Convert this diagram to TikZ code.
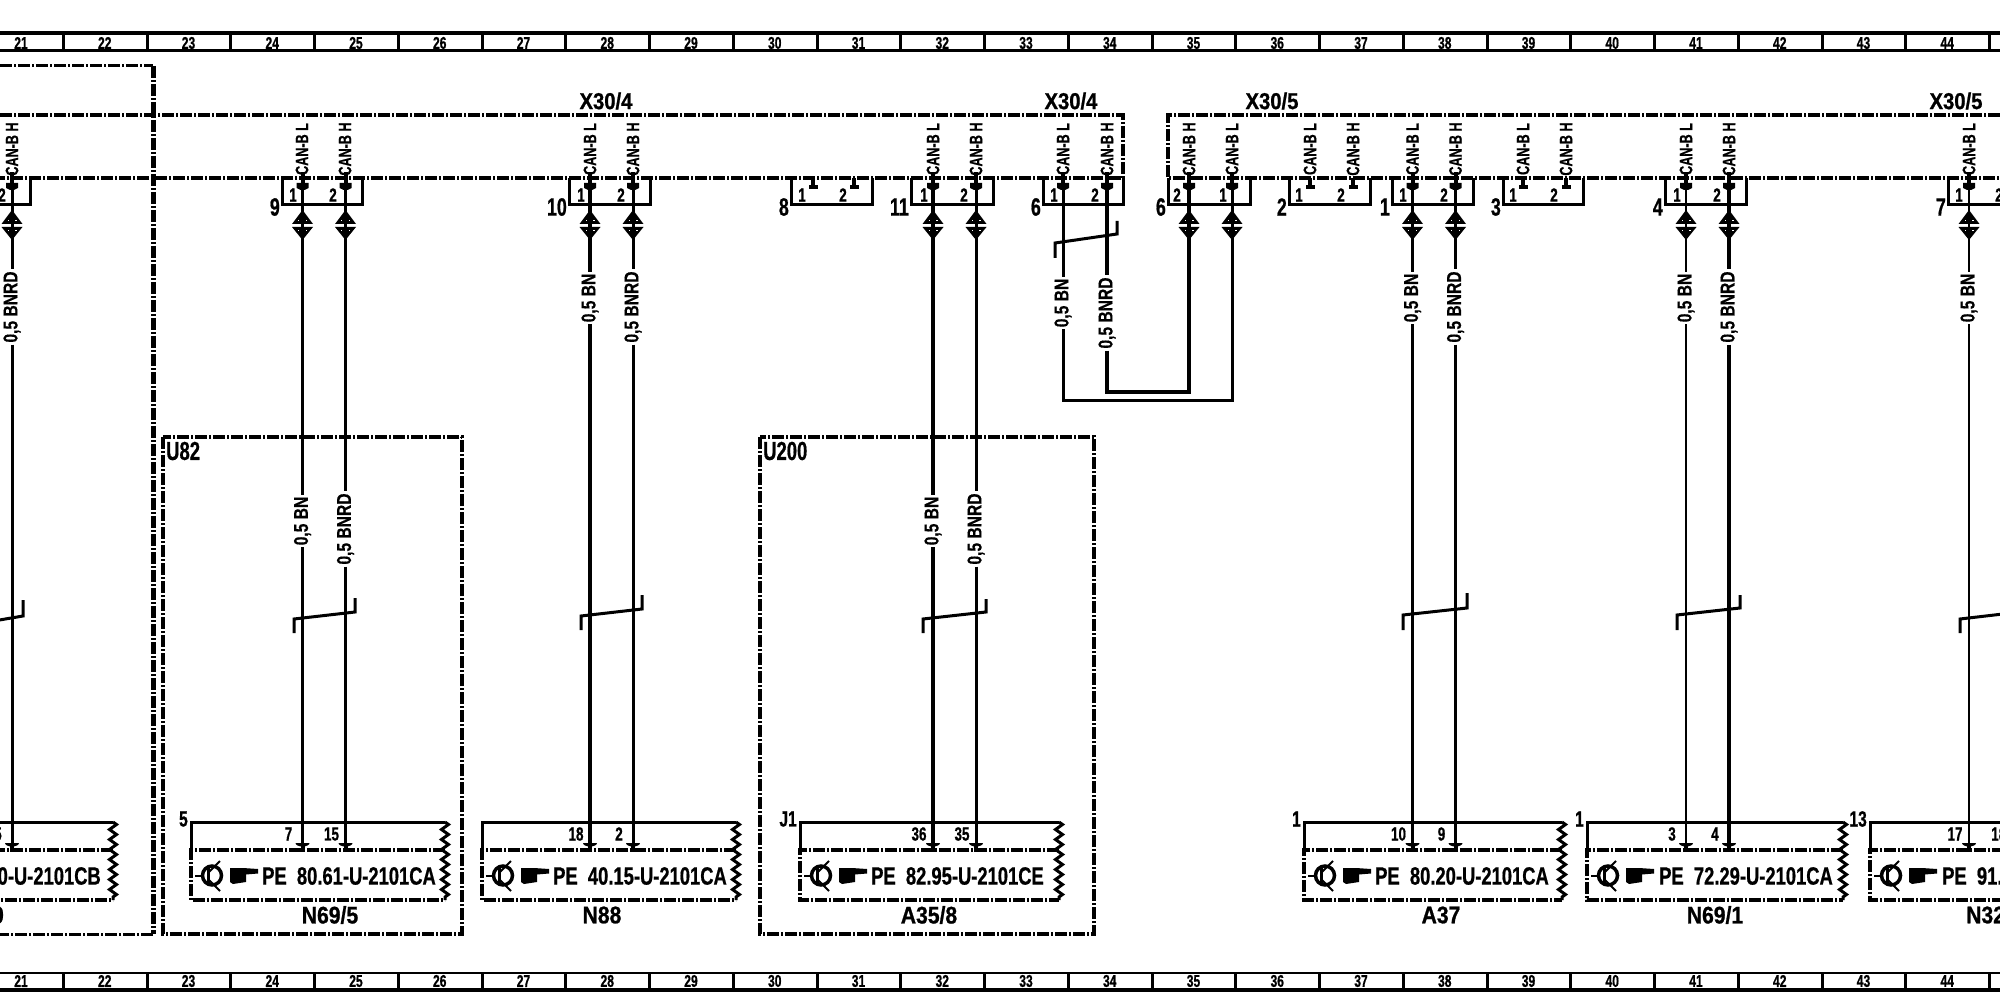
\documentclass[tikz,border=0pt]{standalone}
\usepackage{fontspec}
\usetikzlibrary{decorations.pathmorphing}
\setmainfont{Liberation Sans}
\newfontfamily\fnarrow[FakeStretch=0.71,BoldFeatures={FakeBold=0.7}]{Liberation Sans}
\newfontfamily\fref[FakeStretch=0.735,BoldFeatures={FakeBold=0.7}]{Liberation Sans}
\newfontfamily\fmid[FakeStretch=0.88,BoldFeatures={FakeBold=0.9}]{Liberation Sans}
\newfontfamily\fwire[FakeStretch=0.78,BoldFeatures={FakeBold=0.5}]{Liberation Sans}
\newfontfamily\fcan[FakeStretch=0.70,BoldFeatures={FakeBold=0.5}]{Liberation Sans}
\tikzset{
  rulerline/.style={line width=#1,draw=black},
  dd/.style={line width=#1,draw=black,dash pattern=on 12pt off 2pt on 2pt off 2pt},
  wirepen/.style={line width=#1,draw=black},
  ctext/.style={inner sep=0pt,font=\fcan\bfseries\fontsize{18}{18}\selectfont,rotate=90},
  wtext/.style={inner sep=2pt,font=\fwire\bfseries\fontsize{20}{20}\selectfont,rotate=90},
  rulelab/.style={inner sep=0pt,font=\fnarrow\bfseries\fontsize{17}{17}\selectfont},
  pinlab/.style={inner sep=0pt,font=\fnarrow\bfseries\fontsize{19}{19}\selectfont},
  conntag/.style={inner sep=0pt,anchor=east,font=\fnarrow\bfseries\fontsize{25}{25}\selectfont},
  boxtag/.style={inner sep=0pt,anchor=east,font=\fnarrow\bfseries\fontsize{22}{22}\selectfont},
  frametag/.style={inner sep=0pt,anchor=west,font=\fnarrow\bfseries\fontsize{26}{26}\selectfont},
  reftext/.style={inner sep=0pt,anchor=west,font=\fref\bfseries\fontsize{25}{25}\selectfont},
  nametext/.style={inner sep=0pt,font=\fmid\bfseries\fontsize{24}{24}\selectfont},
  hdtext/.style={inner sep=0pt,font=\fmid\bfseries\fontsize{23}{23}\selectfont},
}
\newcommand\ctbody[2]{\draw[wirepen=3] (#1,178) |- (#2,205) -- (#2,178);}
\newcommand\dmd[1]{%
  \fill (#1-10.5,224) -- (#1,210) -- (#1+10.5,224) -- cycle;
  \fill (#1-10.5,227) -- (#1,240) -- (#1+10.5,227) -- cycle;
  \fill[white] (#1-4.5,220) rectangle (#1-3.3,221.2);
  \fill[white] (#1+3.3,220) rectangle (#1+4.5,221.2);
  \fill[white] (#1-4.5,230) rectangle (#1-3.3,231.2);
  \fill[white] (#1+3.3,230) rectangle (#1+4.5,231.2);}
\newcommand\topc[1]{\fill (#1-6,183) -- (#1+6,183) -- (#1+6,188) -- (#1+2,190) -- (#1-2,190) -- (#1-6,188) -- cycle;
  \fill (#1-2,172) rectangle (#1+2,184);}
\newcommand\bare[1]{\fill (#1-2,178) rectangle (#1+2,185); \fill (#1-4.5,185) rectangle (#1+4.5,189);}
\newcommand\lwire[6]{%
  \coordinate (#1t) at (#2,178);
  \coordinate (#1b) at (#2,#6);
  \node[wtext] (#1l) at (#2,#3) {#4};
  \draw[wirepen=#5] (#1t) -- (#1l.east);
  \draw[wirepen=#5] (#1l.west) -- (#1b);
  \dmd{#2}\topc{#2}}
\newcommand\canl[3]{\node[ctext] (#1) at (#2,149) {CAN-B #3};}
\newcommand\pinm[3]{%
  \fill (#1-7,843) arc[start angle=180,end angle=0,x radius=7,y radius=3.5] -- cycle;
  \fill (#1-2,843) rectangle (#1+2,852);
  \node[pinlab] (#2) at (#1-14,834) {#3};}
\newcommand\shld[6]{\draw[wirepen=3,line join=miter] (#1,#2) -- (#1,#3) -- (#4,#5) -- (#4,#6);}
\newcommand\devbox[2]{%
  \draw[wirepen=3] (#1,850) |- (#2,822);
  \draw[dd=3.5] (#2,850) -- (#1,850) -- (#1,900) -- (#2,900);
  \draw[wirepen=3,decorate,decoration={zigzag,segment length=10pt,amplitude=3.5pt}] (#2,822) -- (#2,900);
  \draw[wirepen=3.5] (#1+21,875.5) circle[radius=9.5];
  \draw[wirepen=2.5] (#1+4,876) -- (#1+13,876);
  \draw[wirepen=3] (#1+17,867) -- (#1+17,884);
  \draw[wirepen=2] (#1+17,873) -- (#1+29,861);
  \draw[wirepen=2] (#1+17,879) -- (#1+29,891);
  \fill (#1+39,868) -- (#1+52,868) -- (#1+67,869) -- (#1+67,873.5) -- (#1+55,874.5) -- (#1+55,882) -- (#1+42,884) -- (#1+39,882) -- cycle;}
\begin{document}
\begin{tikzpicture}[x=1pt,y=-1pt]
\useasboundingbox (0,0) rectangle (2000,1008);
\fill[white] (0,0) rectangle (2000,1008);
\clip (0,0) rectangle (2000,1008);
% rulers
\draw[rulerline=4] (0,33) -- (2000,33);
\draw[rulerline=2.5] (0,50.5) -- (2000,50.5);
\draw[rulerline=2.5] (0,973) -- (2000,973);
\draw[rulerline=4] (0,990) -- (2000,990);
\foreach \i in {0,...,23}{
  \pgfmathsetmacro\tx{63.3+83.75*\i}
  \draw[rulerline=3] (\tx,33) -- (\tx,50);
  \draw[rulerline=3] (\tx,973) -- (\tx,990);
}
\foreach \k in {21,...,44}{
  \pgfmathsetmacro\lx{21+83.75*(\k-21)}
  \node[rulelab] (rt\k) at (\lx,43) {\k};
  \node[rulelab] (rb\k) at (\lx,981) {\k};
}
% frames
\draw[dd=3] (0,66) -- (153,66);
\draw[dd=5] (153,66) -- (153,934);
\draw[dd=3] (153,934) -- (0,934);
\draw[dd=3.5] (163,437) rectangle (462,934);
\draw[dd=3.5] (760,437) rectangle (1094,934);
\node[frametag] (u82) at (166,451) {U82};
\node[frametag] (u200) at (763,451) {U200};
% bus lines
\draw[dd=3.5] (0,115) -- (1123,115) -- (1123,178) -- (0,178);
\draw[dd=3.5] (2000,115) -- (1168,115) -- (1168,178) -- (2000,178);
% headings
\node[hdtext] (h1) at (606,101) {X30/4};
\node[hdtext] (h2) at (1071,101) {X30/4};
\node[hdtext] (h3) at (1272,101) {X30/5};
\node[hdtext] (h4) at (1956,101) {X30/5};
% connector bodies
\ctbody{-40}{30}
\ctbody{282}{362}
\ctbody{569}{650}
\ctbody{791}{872}
\ctbody{911}{993}
\ctbody{1043}{1123}
\ctbody{1168}{1250}
\ctbody{1289}{1370}
\ctbody{1392}{1473}
\ctbody{1503}{1583}
\ctbody{1665}{1746}
\ctbody{1948}{2040}
\node[conntag] (c9) at (280,207) {9};
\node[conntag] (c10) at (567,207) {10};
\node[conntag] (c8) at (789,207) {8};
\node[conntag] (c11) at (909,207) {11};
\node[conntag] (c6a) at (1041,207) {6};
\node[conntag] (c6b) at (1166,207) {6};
\node[conntag] (c2) at (1287,207) {2};
\node[conntag] (c1) at (1390,207) {1};
\node[conntag] (c3) at (1501,207) {3};
\node[conntag] (c4) at (1663,207) {4};
\node[conntag] (c7) at (1946,207) {7};
% CAN labels
\canl{ca}{12}{H}
\canl{cb}{302}{L}\canl{cc}{345}{H}
\canl{cd}{590}{L}\canl{ce}{633}{H}
\canl{cf}{933}{L}\canl{cg}{976}{H}
\canl{ch}{1063}{L}\canl{ci}{1107}{H}
\canl{cj}{1189}{H}\canl{ck}{1232}{L}
\canl{cl}{1310}{L}\canl{cm}{1353}{H}
\canl{cn}{1412.5}{L}\canl{co}{1455.5}{H}
\canl{cp}{1523}{L}\canl{cq}{1566}{H}
\canl{cr}{1686}{L}\canl{cs}{1729}{H}
\canl{ct}{1969}{L}
% pin numbers in the connectors
\foreach \nm/\px/\t in {pa/2/2,pb/293/1,pc/333/2,pd/581/1,pe/621/2,pf/802/1,pg/843/2,ph/924/1,pi/964/2,pj/1054/1,pk/1095/2,pl/1177/2,pm/1223/1,pn/1299/1,po/1341/2,pp/1403/1,pq/1444/2,pr/1513/1,ps/1554/2,pt/1677/1,pu/1717/2,pv/1959/1,pw/1999/2}
  \node[pinlab] (\nm) at (\px,195) {\t};
% contacts with no wire
\bare{813}\bare{854}\bare{1310}\bare{1353}\bare{1523}\bare{1566}
% wires
\lwire{wa}{12}{307}{0,5 BNRD}{3}{850}
\lwire{wb}{302.5}{521}{0,5 BN}{3}{850}
\lwire{wc}{345.5}{529}{0,5 BNRD}{3}{850}
\lwire{wd}{590}{298}{0,5 BN}{3.5}{850}
\lwire{we}{633}{307}{0,5 BNRD}{3}{850}
\lwire{wf}{933}{521}{0,5 BN}{4}{850}
\lwire{wg}{976}{529}{0,5 BNRD}{3}{850}
\lwire{wn}{1412.5}{298}{0,5 BN}{3.5}{850}
\lwire{wo}{1455.5}{307}{0,5 BNRD}{3}{850}
\lwire{wr}{1686}{298}{0,5 BN}{2.5}{850}
\lwire{ws}{1729}{307}{0,5 BNRD}{3.5}{850}
\lwire{wt}{1969}{298}{0,5 BN}{2.5}{850}
% X30 loop
\coordinate (lh1t) at (1063,178);
\coordinate (lh2t) at (1107,178);
\coordinate (lj1t) at (1189,178);
\coordinate (lj2t) at (1232,178);
\node[wtext] (lh1) at (1063,303) {0,5 BN};
\node[wtext] (lh2) at (1107,313) {0,5 BNRD};
\draw[wirepen=3] (lh1t) -- (lh1.east);
\draw[wirepen=3.5] (lh2t) -- (lh2.east);
\draw[wirepen=3] (lh1.west) |- (lj2t |- 0,400.5) -- (lj2t);
\draw[wirepen=3.5] (lh2.west) |- (lj1t |- 0,392) -- (lj1t);
\topc{1063}\topc{1107}\topc{1189}\topc{1232}
\dmd{1189}\dmd{1232}
% shields
\draw[wirepen=3] (-30,625) -- (23,616) -- (23,600);
\shld{294}{633}{619}{355}{612}{598}
\shld{581}{630}{616}{642}{609}{595}
\shld{923}{633}{619}{986}{612}{599}
\shld{1055}{258}{243}{1117}{234}{221}
\shld{1403}{630}{615}{1467}{608}{593}
\shld{1677}{630}{615}{1740}{608}{595}
\draw[wirepen=3] (1960,633) -- (1960,619) -- (2020,612);
% device boxes
\devbox{-150}{113}
\devbox{191}{445}
\devbox{482}{736}
\devbox{800}{1059}
\devbox{1304}{1562}
\devbox{1587}{1843}
\devbox{1870}{2130}
% pin markers
\pinm{12}{ba}{5}
\pinm{302.5}{bb}{7}
\pinm{345.5}{bc}{15}
\pinm{590}{bd}{18}
\pinm{633}{be}{2}
\pinm{933}{bf}{36}
\pinm{976}{bg}{35}
\pinm{1412.5}{bh}{10}
\pinm{1455.5}{bi}{9}
\pinm{1686}{bj}{3}
\pinm{1729}{bk}{4}
\pinm{1969}{bl}{17}
\node[pinlab,anchor=west] (bm) at (1991,834) {18};
% tags over the boxes
\node[boxtag] (t1) at (188,819) {5};
\node[boxtag] (t2) at (797,819) {J1};
\node[boxtag] (t3) at (1301,819) {1};
\node[boxtag] (t4) at (1584,819) {1};
\node[boxtag] (t5) at (1867,819) {13};
% references
\node[reftext,anchor=east] (ra) at (101,876) {0-U-2101CB};
\node[reftext] (rb) at (262,876) {PE~~80.61-U-2101CA};
\node[reftext] (rc) at (553,876) {PE~~40.15-U-2101CA};
\node[reftext] (rd) at (871,876) {PE~~82.95-U-2101CE};
\node[reftext] (re) at (1375,876) {PE~~80.20-U-2101CA};
\node[reftext] (rf) at (1659,876) {PE~~72.29-U-2101CA};
\node[reftext] (rg) at (1942,876) {PE~~91.};
% device names
\node[nametext] (na) at (-2,915) {0};
\node[nametext] (nb) at (330,915) {N69/5};
\node[nametext] (nc) at (602,915) {N88};
\node[nametext] (nd) at (929,915) {A35/8};
\node[nametext] (ne) at (1441,915) {A37};
\node[nametext] (nf) at (1715,915) {N69/1};
\node[nametext,anchor=west] (ng) at (1966,915) {N32};
\end{tikzpicture}
\end{document}
